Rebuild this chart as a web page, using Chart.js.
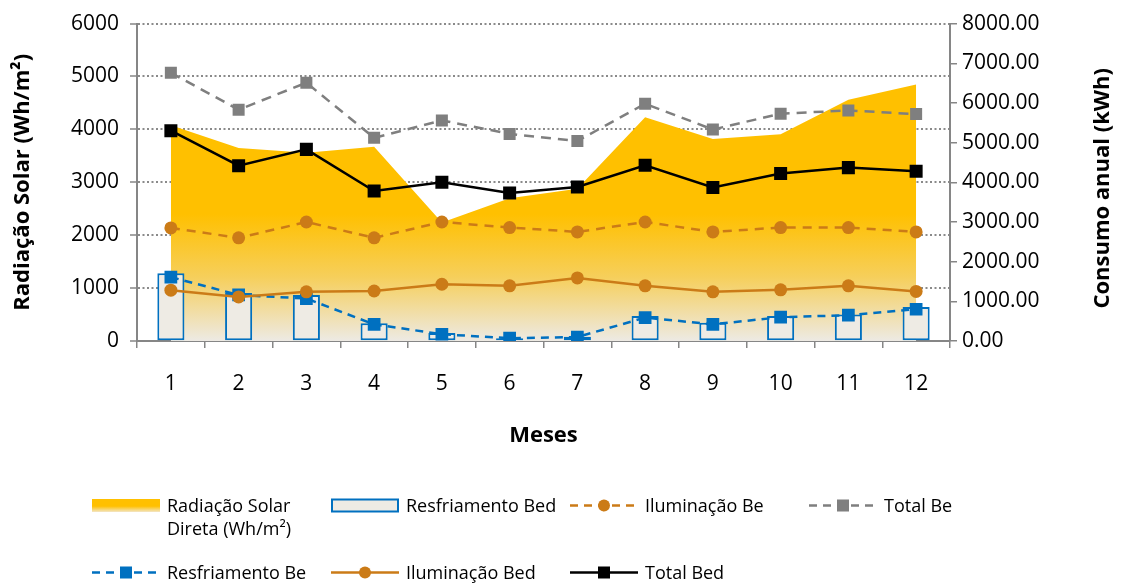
<!DOCTYPE html>
<html>
<head>
<meta charset="utf-8">
<script src="https://cdn.jsdelivr.net/npm/chart.js@4"></script>
<style>
  body { margin: 0; background: #fff; }
  #wrap { position: relative; width: 1123px; height: 585px; }
  #grafico { position: absolute; left: 0; top: 0; }
  #legenda {
    position: absolute; left: 92px; top: 494px;
    display: grid; grid-template-columns: repeat(4, 239px);
    grid-template-rows: 46px 23px; row-gap: 21px;
    font-family: "Open Sans", sans-serif; font-size: 18px; line-height: 23px; color: #000;
  }
  .item { display: flex; align-items: flex-start; }
  .item svg { flex: none; margin-right: 7px; }
</style>
</head>
<body>
<div id="wrap">
  <canvas id="grafico" width="1123" height="585"></canvas>
  <div id="legenda"></div>
</div>
<script>
const meses = ["1", "2", "3", "4", "5", "6", "7", "8", "9", "10", "11", "12"];

// eixo esquerdo (Wh/m²)
const radiacaoSolar = [4080, 3650, 3560, 3670, 2240, 2700, 2880, 4230, 3820, 3910, 4560, 4850];

// eixo direito (kWh)
const resfriamentoBed = [1710, 1210, 1160, 450, 200, 70, 110, 630, 460, 630, 670, 860];
const resfriamentoBe = [1610, 1160, 1070, 420, 170, 70, 100, 590, 420, 600, 650, 800];
const iluminacaoBe = [2850, 2600, 3000, 2600, 3000, 2860, 2750, 3000, 2750, 2860, 2860, 2750];
const iluminacaoBed = [1280, 1110, 1240, 1260, 1430, 1390, 1590, 1390, 1240, 1290, 1390, 1250];
const totalBe = [6760, 5830, 6510, 5120, 5560, 5220, 5040, 5980, 5330, 5730, 5810, 5720];
const totalBed = [5300, 4420, 4830, 3780, 4000, 3730, 3880, 4430, 3870, 4220, 4370, 4280];

const ticksEsq = [0, 1000, 2000, 3000, 4000, 5000, 6000];
const ticksDir = [0, 1000, 2000, 3000, 4000, 5000, 6000, 7000, 8000];

const AZUL = "#0070C0", LARANJA = "#CB7B17", CINZA = "#7F7F7F", PRETO = "#000000";
const EIXO = "#868686";
const fonteTick = { family: "Open Sans", size: 21 };

function gradienteArea(context) {
    const chart = context.chart;
    const { ctx, chartArea, scales } = chart;
    if (!chartArea) return "#FFC000";
    const y0 = scales.y.getPixelForValue(2400);
    const y1 = scales.y.getPixelForValue(0);
    const g = ctx.createLinearGradient(0, y0, 0, y1);
    g.addColorStop(0, "#FFC000");
    g.addColorStop(0.5, "#F6CF5C");
    g.addColorStop(1, "#EDEAE4");
    return g;
}

const titulos = {
    id: "titulos",
    afterDraw(chart) {
        const ctx = chart.ctx, a = chart.chartArea;
        ctx.save();
        ctx.font = 'bold 22px "Open Sans"';
        ctx.fillStyle = "#000";
        ctx.textAlign = "center";
        ctx.textBaseline = "middle";
        ctx.fillText("Meses", (a.left + a.right) / 2, 436);
        ctx.save();
        ctx.translate(23, (a.top + a.bottom) / 2);
        ctx.rotate(-Math.PI / 2);
        ctx.fillText("Radiação Solar (Wh/m²)", 0, 0);
        ctx.restore();
        ctx.translate(1103, (a.top + a.bottom) / 2 + 6);
        ctx.rotate(-Math.PI / 2);
        ctx.fillText("Consumo anual (kWh)", 0, 0);
        ctx.restore();
    }
};

function linha(label, data, cor, tracejado, estilo, raio, ordem) {
    return {
        type: "line", label: label, data: data, yAxisID: "y1",
        borderColor: cor, backgroundColor: cor, borderWidth: 2.5,
        borderDash: tracejado, pointStyle: estilo, pointRadius: raio,
        pointBorderWidth: 0, pointBackgroundColor: cor,
        tension: 0, fill: false, order: ordem
    };
}

new Chart(document.getElementById("grafico").getContext("2d"), {
    type: "bar",
    data: {
        labels: meses,
        datasets: [
            {
                type: "line", label: "Radiação Solar Direta (Wh/m²)", data: radiacaoSolar, yAxisID: "y",
                backgroundColor: gradienteArea, borderWidth: 0, pointRadius: 0, fill: "origin",
                tension: 0, order: 10
            },
            {
                type: "bar", label: "Resfriamento Bed", data: resfriamentoBed, yAxisID: "y1",
                backgroundColor: "#EEEBE4", borderColor: AZUL, borderWidth: 2, borderSkipped: false,
                barPercentage: 0.4, categoryPercentage: 1, order: 9
            },
            linha("Resfriamento Be", resfriamentoBe, AZUL, [8, 6], "rect", 9, 6),
            linha("Iluminação Be", iluminacaoBe, LARANJA, [9, 7], "circle", 6.5, 5),
            linha("Iluminação Bed", iluminacaoBed, LARANJA, [], "circle", 6.5, 4),
            linha("Total Be", totalBe, CINZA, [10, 7], "rect", 8.5, 3),
            linha("Total Bed", totalBed, PRETO, [], "rect", 9.2, 2)
        ]
    },
    options: {
        responsive: false,
        animation: false,
        layout: { padding: { top: 21, bottom: 194, left: 0, right: 0 } },
        plugins: { legend: { display: false }, tooltip: { enabled: false } },
        scales: {
            x: {
                grid: { offset: true, drawOnChartArea: false, drawTicks: true, tickLength: 7, color: EIXO, lineWidth: 1.5 },
                border: { color: EIXO, width: 2 },
                ticks: { font: fonteTick, color: "#000", padding: 23 },
                afterFit(s) { s.height = 50; }
            },
            y: {
                position: "left", min: 0, max: 6000,
                afterBuildTicks(s) { s.ticks = ticksEsq.map(v => ({ value: v })); },
                ticks: { font: fonteTick, color: "#000", padding: 11, callback: v => String(v) },
                grid: { color: "#8A8A8A", lineWidth: 2, tickLength: 7, tickColor: EIXO, tickWidth: 1.5 },
                border: { color: EIXO, width: 2, dash: [2, 2.5] },
                afterFit(s) { s.width = 137; }
            },
            y1: {
                position: "right", min: 0, max: 8000,
                afterBuildTicks(s) { s.ticks = ticksDir.map(v => ({ value: v })); },
                ticks: { font: fonteTick, color: "#000", padding: 5, callback: v => Number(v).toFixed(2) },
                grid: { drawOnChartArea: false, tickLength: 7, color: EIXO, lineWidth: 1.5 },
                border: { color: EIXO, width: 2 },
                afterFit(s) { s.width = 173; }
            }
        }
    },
    plugins: [titulos]
});

// legenda em HTML
function simboloLinha(cor, tracejado, marcador) {
    const dash = tracejado ? ' stroke-dasharray="' + tracejado + '"' : "";
    let m = "";
    if (marcador === "circle") m = '<circle cx="34" cy="11.5" r="6" fill="' + cor + '"/>';
    if (marcador === "rect") m = '<rect x="28" y="5.5" width="12" height="12" fill="' + cor + '"/>';
    return '<svg width="68" height="23"><line x1="0" y1="11.5" x2="68" y2="11.5" stroke="' + cor +
        '" stroke-width="2.5"' + dash + '/>' + m + '</svg>';
}
const simbArea = '<svg width="68" height="23"><defs><linearGradient id="ga" x1="0" y1="0" x2="0" y2="1">' +
    '<stop offset="0" stop-color="#FFC000"/><stop offset="0.55" stop-color="#FFC000"/>' +
    '<stop offset="1" stop-color="#F3E6C6"/></linearGradient></defs>' +
    '<rect x="0" y="5" width="68" height="13" fill="url(#ga)"/></svg>';
const simbBarra = '<svg width="68" height="23"><rect x="1" y="5.5" width="66" height="12" fill="#EEEBE4" stroke="' +
    AZUL + '" stroke-width="2"/></svg>';

const itensLegenda = [
    [simbArea, "Radiação Solar<br>Direta (Wh/m²)"],
    [simbBarra, "Resfriamento Bed"],
    [simboloLinha(LARANJA, "8,6", "circle"), "Iluminação Be"],
    [simboloLinha(CINZA, "8,6", "rect"), "Total Be"],
    [simboloLinha(AZUL, "8,6", "rect"), "Resfriamento Be"],
    [simboloLinha(LARANJA, "", "circle"), "Iluminação Bed"],
    [simboloLinha(PRETO, "", "rect"), "Total Bed"]
];
document.getElementById("legenda").innerHTML = itensLegenda
    .map(it => '<div class="item">' + it[0] + "<span>" + it[1] + "</span></div>")
    .join("");
</script>
</body>
</html>
